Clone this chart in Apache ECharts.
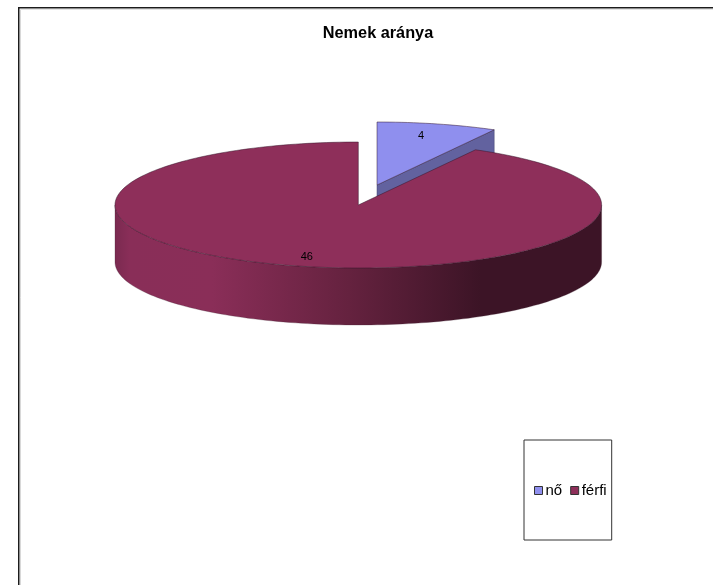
<!DOCTYPE html>
<html>
<head>
<meta charset="utf-8">
<style>html,body{margin:0;padding:0;background:#fff}#c{width:713px;height:585px}</style>
<script src="https://cdn.jsdelivr.net/npm/echarts@6/dist/echarts.min.js"></script>
</head>
<body>
<div id="c"></div>
<script>
const chartTitle = "Nemek aránya";
const categories = ["nő", "férfi"];
const values = [4, 46];
const topColors = ["#8f8fee", "#8e2f5a"];
const cutColors = ["#62629f", "#5f2040"];

const total = values.reduce((a, b) => a + b, 0);
const FONT = '"Liberation Sans", Arial, sans-serif';
const CX = 358.3, CY = 205, RX = 243.3, RY = 63, DEPTH = 57;
const explode = [[18.7, -20], [0, 0]];
const labelFrac = [[0.73, 0.8], [0.85, 0.85]];

const wallGradient = new echarts.graphic.LinearGradient(0, 0, 1, 0, [
  { offset: 0, color: "#7a2a50" },
  { offset: 0.03, color: "#892e58" },
  { offset: 0.2, color: "#8a2e58" },
  { offset: 0.48, color: "#65223f" },
  { offset: 0.75, color: "#3c1426" },
  { offset: 1, color: "#3c1426" }
]);

function pt(cx, cy, deg) {
  const a = deg * Math.PI / 180;
  return [cx + RX * Math.sin(a), cy - RY * Math.cos(a)];
}
function arc(cx, cy, from, to) {
  const pts = [], n = Math.max(2, Math.ceil(Math.abs(to - from) / 1.5));
  for (let i = 0; i <= n; i++) pts.push(pt(cx, cy, from + (to - from) * i / n));
  return pts;
}
function sliceItem(idx) {
  return function (params, api) {
    const before = values.slice(0, idx).reduce((a, b) => a + b, 0);
    const start = before / total * 360;
    const end = start + api.value(0) / total * 360;
    const cx = CX + explode[idx][0], cy = CY + explode[idx][1];
    const color = api.visual("color");
    const children = [];

    if (idx === 0) {
      const e = pt(cx, cy, end);
      children.push({
        type: "polygon",
        shape: { points: [[cx, cy], e, [e[0], e[1] + DEPTH], [cx, cy + DEPTH]] },
        style: { fill: cutColors[idx], stroke: "#44446f", lineWidth: 0.5 }
      });
    }
    const from = Math.max(start, 90), to = Math.min(end, 270);
    if (to > from) {
      const a1 = arc(cx, cy, from, to);
      const a2 = arc(cx, cy + DEPTH, to, from);
      children.push({
        type: "polygon",
        shape: { points: a1.concat(a2) },
        style: { fill: wallGradient, stroke: "rgba(70,40,55,0.55)", lineWidth: 0.5 }
      });
    }
    children.push({
      type: "polygon",
      shape: { points: [[cx, cy]].concat(arc(cx, cy, start, end)) },
      style: { fill: color, stroke: "rgba(50,20,40,0.7)", lineWidth: 0.7 }
    });
    const mid = (start + end) / 2 * Math.PI / 180;
    children.push({
      type: "text",
      style: {
        x: cx + labelFrac[idx][0] * RX * Math.sin(mid),
        y: cy - labelFrac[idx][1] * RY * Math.cos(mid),
        text: String(api.value(0)),
        fill: "#000",
        font: "11px " + FONT,
        align: "center",
        verticalAlign: "middle"
      }
    });
    return { type: "group", children };
  };
}

const chart = echarts.init(document.getElementById("c"), null, { renderer: "canvas" });
chart.setOption({
  animation: false,
  backgroundColor: "#fff",
  title: {
    text: chartTitle,
    left: 373,
    top: 21,
    textAlign: "center",
    textStyle: { fontFamily: FONT, fontSize: 16.3, fontWeight: "bold", color: "#000" }
  },
  legend: {
    data: categories,
    left: 524,
    top: 440,
    orient: "horizontal",
    icon: "rect",
    itemWidth: 8,
    itemHeight: 8,
    itemGap: 8,
    padding: [43, 5, 42, 10],
    borderColor: "#333",
    borderWidth: 1,
    selectedMode: false,
    itemStyle: { borderColor: "#333", borderWidth: 1 },
    textStyle: { fontFamily: FONT, fontSize: 15, color: "#000", padding: [0, 0, 0, -2] }
  },
  graphic: [
    { type: "line", silent: true, shape: { x1: 20.5, y1: 9.5, x2: 713, y2: 9.5 }, style: { stroke: "#e4e4e4", lineWidth: 1 } },
    { type: "line", silent: true, shape: { x1: 20.5, y1: 9.5, x2: 20.5, y2: 585 }, style: { stroke: "#d8d8d8", lineWidth: 1 } },
    { type: "line", silent: true, shape: { x1: 18, y1: 7.75, x2: 713, y2: 7.75 }, style: { stroke: "#1c1c1c", lineWidth: 1.5 } },
    { type: "line", silent: true, shape: { x1: 18.75, y1: 7, x2: 18.75, y2: 585 }, style: { stroke: "#1c1c1c", lineWidth: 1.5 } }
  ],
  series: categories.map((name, i) => ({
    type: "custom",
    name,
    coordinateSystem: "none",
    z: 2 + i,
    itemStyle: { color: topColors[i] },
    silent: true,
    data: [[values[i]]],
    renderItem: sliceItem(i)
  }))
});
</script>
</body>
</html>
